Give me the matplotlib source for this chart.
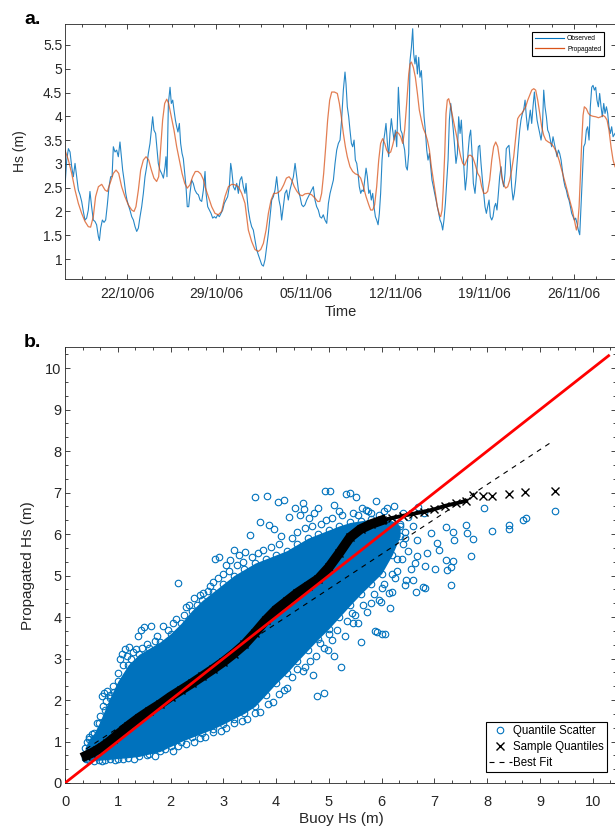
"""Buoy vs propagated significant wave height: time series (a) and quantile plot (b)."""

import datetime as dt

import matplotlib

matplotlib.use("Agg")
import matplotlib.dates as mdates
import matplotlib.pyplot as plt
import numpy as np
from matplotlib.ticker import AutoMinorLocator, FixedLocator, FormatStrFormatter, MultipleLocator

plt.rcParams["font.family"] = ["Liberation Sans", "DejaVu Sans"]
plt.rcParams["lines.scale_dashes"] = False

BLUE = "#0072BD"
ORANGE = "#D95319"
INK = "#262626"

T0 = dt.datetime(2006, 10, 17)  # day 0 of the time axis

# panel a: (days after 17/10/06, Hs in m)
observed = [
    (0.14, 2.52), (0.28, 3.08), (0.41, 3.32), (0.54, 3.25), (0.67, 2.94), (0.80, 2.73), (0.93, 3.01),
    (1.06, 2.73), (1.19, 2.45), (1.32, 2.35), (1.45, 2.21), (1.58, 2.00), (1.71, 1.82), (1.84, 1.86),
    (1.97, 2.03), (2.10, 2.42), (2.23, 2.10), (2.36, 1.82), (2.49, 1.79), (2.62, 1.72), (2.76, 1.47),
    (2.84, 1.39), (2.94, 1.65), (3.07, 1.82), (3.20, 1.77), (3.33, 1.82), (3.46, 2.14), (3.59, 2.52),
    (3.72, 2.73), (3.83, 2.73), (3.93, 3.36), (4.06, 3.25), (4.19, 3.29), (4.32, 3.15), (4.45, 3.46),
    (4.56, 3.15), (4.66, 2.87), (4.77, 2.66), (4.90, 2.38), (5.00, 2.24), (5.10, 2.14), (5.23, 2.03),
    (5.37, 1.89), (5.50, 1.82), (5.63, 1.68), (5.76, 1.58), (5.89, 1.65), (6.02, 1.89), (6.15, 2.10),
    (6.28, 2.38), (6.41, 2.73), (6.54, 2.94), (6.67, 3.22), (6.80, 3.43), (6.93, 3.78), (7.01, 3.99),
    (7.11, 3.71), (7.24, 3.64), (7.35, 3.32), (7.45, 3.01), (7.58, 2.87), (7.71, 2.80), (7.85, 2.70),
    (7.98, 2.94), (8.05, 3.15), (8.13, 2.73), (8.24, 4.27), (8.37, 4.61), (8.47, 4.27), (8.58, 4.34),
    (8.68, 4.13), (8.79, 3.92), (8.89, 3.78), (8.99, 3.67), (9.10, 3.85), (9.20, 3.43), (9.31, 3.22),
    (9.41, 3.11), (9.52, 2.80), (9.62, 2.52), (9.72, 2.10), (9.83, 2.10), (9.93, 2.38), (10.06, 2.66),
    (10.19, 2.59), (10.32, 2.45), (10.46, 2.38), (10.59, 2.35), (10.72, 2.24), (10.85, 2.21),
    (10.98, 2.45), (11.11, 2.84),
    (11.19, 2.38), (11.32, 2.10), (11.45, 2.03), (11.58, 1.96), (11.71, 1.86), (11.84, 1.89),
    (11.97, 1.86), (12.10, 1.93), (12.23, 1.89), (12.36, 1.96), (12.49, 2.03), (12.62, 2.17),
    (12.75, 2.24), (12.88, 2.31), (13.01, 2.52), (13.12, 3.01), (13.20, 2.87), (13.33, 2.52),
    (13.46, 2.45), (13.59, 2.59), (13.72, 2.38), (13.85, 2.66), (13.98, 2.73), (14.11, 2.52),
    (14.24, 2.38), (14.32, 2.59), (14.42, 2.24), (14.50, 2.03), (14.63, 1.82), (14.76, 1.68),
    (14.89, 1.61), (15.02, 1.40), (15.15, 1.20), (15.28, 1.09), (15.41, 0.99), (15.55, 0.88),
    (15.68, 0.85), (15.81, 0.99), (15.94, 1.27), (16.07, 1.54), (16.20, 1.89), (16.33, 2.24),
    (16.46, 2.31), (16.59, 2.45), (16.72, 2.73), (16.80, 2.52), (16.90, 2.24), (17.01, 2.10),
    (17.11, 1.82), (17.24, 2.10), (17.37, 2.38), (17.50, 2.45), (17.63, 2.24), (17.76, 2.45),
    (17.89, 2.59), (18.03, 2.73), (18.16, 3.01), (18.29, 2.73), (18.42, 2.45), (18.55, 2.31),
    (18.68, 2.14), (18.81, 2.10), (18.94, 2.14), (19.07, 2.24), (19.20, 2.31), (19.33, 2.38),
    (19.46, 2.45), (19.59, 2.52), (19.72, 2.24), (19.85, 2.10), (19.98, 2.03), (20.11, 1.89),
    (20.24, 1.86), (20.37, 1.93), (20.50, 1.82), (20.64, 1.75), (20.77, 2.17), (20.90, 2.38),
    (21.03, 2.52), (21.16, 2.66), (21.29, 3.01), (21.42, 3.29), (21.55, 3.43), (21.68, 3.50),
    (21.81, 3.95), (21.94, 4.55), (22.07, 4.93), (22.15, 4.68), (22.25, 4.20), (22.36, 3.99),
    (22.46, 3.71), (22.57, 3.43), (22.67, 3.36), (22.78, 3.50), (22.88, 3.08), (22.99, 3.01),
    (23.09, 2.80), (23.19, 2.52), (23.30, 2.38), (23.40, 2.45), (23.51, 2.42), (23.61, 2.66),
    (23.72, 2.91), (23.82, 2.73), (23.93, 2.38), (24.03, 2.45), (24.13, 2.24), (24.24, 2.38),
    (24.34, 2.10), (24.45, 1.89), (24.55, 1.82), (24.66, 1.72), (24.76, 1.96), (24.86, 2.38),
    (24.97, 3.08), (25.07, 3.43), (25.18, 3.64), (25.28, 3.85), (25.39, 3.43), (25.49, 3.15),
    (25.59, 3.64), (25.70, 3.95), (25.80, 3.71), (25.91, 3.50), (26.01, 3.71), (26.12, 3.36),
    (26.25, 4.61), (26.35, 4.06), (26.43, 3.71), (26.54, 3.64), (26.64, 3.43), (26.74, 3.29),
    (26.85, 2.94), (26.95, 2.87), (27.06, 3.22), (27.16, 5.17), (27.27, 5.45), (27.37, 5.84),
    (27.45, 5.31), (27.55, 5.10), (27.63, 5.28), (27.74, 4.89), (27.84, 5.24), (27.94, 4.82),
    (28.05, 4.96), (28.15, 4.48), (28.26, 3.99), (28.36, 3.71), (28.47, 3.29), (28.57, 3.08),
    (28.68, 3.22), (28.78, 2.94), (28.88, 2.66), (28.99, 2.52), (29.09, 2.38), (29.20, 2.24),
    (29.30, 2.10), (29.41, 1.96), (29.51, 1.82), (29.62, 1.75), (29.72, 1.61), (29.82, 1.82),
    (29.93, 2.17), (30.03, 2.59), (30.14, 3.08), (30.24, 3.92), (30.35, 4.27), (30.45, 3.99),
    (30.55, 3.71), (30.66, 3.36), (30.76, 3.01), (30.87, 3.22), (30.97, 3.99), (31.08, 3.64),
    (31.18, 3.92), (31.29, 3.36), (31.39, 2.87), (31.49, 2.45), (31.60, 2.73), (31.70, 3.22),
    (31.81, 3.57), (31.91, 3.71), (32.02, 3.22), (32.12, 2.59), (32.25, 2.38),
    (32.38, 2.80), (32.51, 3.36), (32.62, 3.39), (32.72, 3.01), (32.83, 2.66), (32.93, 2.38),
    (33.03, 2.10), (33.14, 1.96), (33.24, 2.10), (33.35, 2.24), (33.45, 1.89), (33.56, 1.82),
    (33.66, 1.89), (33.77, 2.10), (33.87, 2.17), (33.97, 2.03), (34.08, 2.38), (34.18, 2.73),
    (34.29, 2.94), (34.39, 2.66), (34.50, 2.52), (34.60, 2.80), (34.70, 3.32), (34.81, 3.36),
    (34.91, 3.39), (35.02, 3.01), (35.12, 2.52), (35.23, 2.24), (35.33, 2.38), (35.44, 2.66),
    (35.54, 3.01), (35.64, 3.36), (35.75, 3.71), (35.85, 3.92), (35.96, 4.06), (36.06, 4.13),
    (36.17, 4.34), (36.27, 3.99), (36.38, 3.71), (36.48, 3.92), (36.58, 4.13), (36.69, 3.85),
    (36.79, 4.20), (36.90, 4.51), (37.00, 4.20), (37.11, 3.92), (37.21, 3.78), (37.32, 3.64),
    (37.42, 3.50), (37.52, 3.71), (37.63, 4.55), (37.73, 4.20), (37.84, 3.99), (37.94, 3.71),
    (38.05, 3.64), (38.15, 3.50), (38.25, 3.36), (38.36, 3.57), (38.46, 3.43), (38.57, 3.29),
    (38.67, 3.15), (38.78, 3.29), (38.88, 3.22), (38.99, 3.08), (39.09, 2.87), (39.19, 2.66),
    (39.30, 2.52), (39.40, 2.45), (39.51, 2.31), (39.61, 2.24), (39.72, 2.10), (39.82, 1.96),
    (39.93, 1.89), (40.03, 1.82), (40.13, 1.86), (40.24, 1.75), (40.34, 1.61), (40.45, 1.51),
    (40.55, 2.10), (40.66, 2.73), (40.76, 3.36), (40.87, 3.43), (40.97, 3.71), (41.07, 3.78),
    (41.18, 3.50), (41.28, 4.20), (41.39, 4.61), (41.49, 4.65), (41.60, 4.55), (41.70, 4.61),
    (41.80, 4.34), (41.91, 4.20), (42.01, 4.48), (42.12, 4.20), (42.22, 3.99), (42.33, 4.27),
    (42.43, 4.06), (42.54, 4.20), (42.64, 4.06), (42.74, 3.78), (42.85, 3.64), (42.95, 3.78),
    (43.06, 3.57), (43.21, 3.64),
]

propagated = [
    (0.14, 3.29), (0.41, 3.08), (0.67, 2.80), (0.93, 2.45), (1.19, 2.17), (1.45, 1.96), (1.71, 1.79),
    (1.97, 1.68), (2.15, 1.67), (2.36, 1.89), (2.54, 2.31), (2.76, 2.52), (3.02, 2.57), (3.28, 2.45),
    (3.46, 2.42), (3.67, 2.59), (3.93, 2.80), (4.14, 2.87), (4.35, 2.80), (4.58, 2.52), (4.84, 2.31),
    (5.10, 2.14), (5.37, 2.03), (5.55, 2.00), (5.70, 2.10), (5.89, 2.45), (6.07, 2.87), (6.28, 3.08),
    (6.49, 3.15), (6.70, 3.08), (6.91, 2.87), (7.11, 2.70), (7.32, 2.63), (7.48, 2.73), (7.64, 3.36),
    (7.79, 3.92), (7.95, 4.27), (8.11, 4.36), (8.26, 4.27), (8.47, 3.99), (8.68, 3.71), (8.89, 3.36),
    (9.10, 3.08), (9.31, 2.80), (9.52, 2.59), (9.72, 2.49), (9.93, 2.56), (10.14, 2.73), (10.35, 2.84),
    (10.56, 2.84), (10.77, 2.79), (10.98, 2.67), (11.11, 2.52), (11.37, 2.31), (11.63, 2.10),
    (11.89, 1.96), (12.15, 1.93), (12.41, 2.00), (12.67, 2.31), (12.94, 2.52), (13.20, 2.57),
    (13.46, 2.56), (13.72, 2.52), (13.98, 2.38), (14.24, 2.17), (14.37, 1.89), (14.50, 1.61),
    (14.76, 1.37), (15.02, 1.20), (15.28, 1.16), (15.47, 1.20), (15.68, 1.33), (15.89, 1.61),
    (16.07, 1.96), (16.28, 2.24), (16.49, 2.38), (16.69, 2.38), (16.85, 2.40), (17.06, 2.45),
    (17.27, 2.56), (17.48, 2.70), (17.69, 2.73), (17.89, 2.66), (18.10, 2.52), (18.31, 2.42),
    (18.52, 2.35), (18.73, 2.33), (18.94, 2.37), (19.20, 2.38), (19.46, 2.35), (19.72, 2.28),
    (19.93, 2.21), (20.09, 2.21), (20.24, 2.38), (20.40, 2.80), (20.56, 3.36), (20.71, 3.92),
    (20.87, 4.34), (21.03, 4.51), (21.24, 4.51), (21.47, 4.48), (21.63, 4.27), (21.78, 3.99),
    (21.94, 3.64), (22.10, 3.36), (22.25, 3.15), (22.46, 2.94), (22.67, 2.84), (22.88, 2.79),
    (23.09, 2.77), (23.30, 2.70), (23.51, 2.52), (23.72, 2.31), (23.93, 2.14), (24.08, 2.03),
    (24.24, 2.03), (24.39, 2.14), (24.55, 2.52), (24.71, 3.08), (24.86, 3.43), (25.02, 3.53),
    (25.18, 3.43), (25.33, 3.29), (25.49, 3.22), (25.65, 3.25), (25.80, 3.39), (25.96, 3.57),
    (26.12, 3.67), (26.27, 3.64), (26.43, 3.57), (26.59, 3.43), (26.74, 3.71), (26.90, 4.27),
    (27.06, 4.89), (27.16, 5.10), (27.27, 5.14), (27.42, 5.03), (27.58, 4.82), (27.74, 4.48),
    (27.89, 4.13), (28.05, 3.92), (28.21, 3.74), (28.36, 3.64), (28.52, 3.50), (28.68, 3.29),
    (28.83, 2.94), (28.99, 2.66), (29.15, 2.38), (29.30, 2.10), (29.46, 1.93), (29.56, 1.89),
    (29.67, 2.03), (29.77, 2.52), (29.88, 3.22), (29.98, 4.06), (30.08, 4.34), (30.19, 4.37),
    (30.35, 4.20), (30.50, 3.99), (30.66, 3.78), (30.82, 3.57), (30.97, 3.36), (31.13, 3.15),
    (31.29, 3.01), (31.44, 2.97), (31.60, 3.08), (31.76, 3.18), (31.91, 3.18), (32.07, 3.14),
    (32.25, 3.00), (32.46, 2.80), (32.62, 2.73), (32.77, 2.52), (32.93, 2.38), (33.09, 2.38),
    (33.24, 2.42), (33.40, 2.66), (33.56, 3.08), (33.71, 3.36), (33.87, 3.46), (34.03, 3.36),
    (34.18, 3.08), (34.34, 2.73), (34.50, 2.56), (34.65, 2.49), (34.81, 2.52), (34.97, 2.66),
    (35.12, 2.87), (35.28, 3.15), (35.44, 3.57), (35.59, 3.95), (35.75, 4.02), (35.91, 4.06),
    (36.06, 4.13), (36.22, 4.20), (36.38, 4.34), (36.53, 4.44), (36.69, 4.55), (36.85, 4.58),
    (37.00, 4.55), (37.16, 4.34), (37.32, 4.06), (37.47, 3.78), (37.63, 3.60), (37.79, 3.50),
    (37.99, 3.46), (38.20, 3.43), (38.41, 3.36), (38.62, 3.25), (38.83, 3.08), (39.04, 2.87),
    (39.25, 2.66), (39.46, 2.45), (39.66, 2.24), (39.87, 2.03), (40.03, 1.82), (40.19, 1.61),
    (40.29, 1.72), (40.40, 2.10), (40.50, 2.73), (40.60, 3.43), (40.71, 4.02), (40.81, 4.20),
    (40.97, 4.16), (41.13, 4.06), (41.28, 4.02), (41.49, 4.00), (41.70, 3.99), (41.91, 3.97),
    (42.12, 3.99), (42.27, 4.02), (42.43, 3.99), (42.59, 3.92), (42.74, 3.71), (42.90, 3.36),
    (43.06, 3.08), (43.21, 2.94),
]

# panel b: dense core of the quantile scatter (buoy Hs, lower / upper propagated Hs)
cloud_x = [0.38, 0.45, 0.55, 0.65, 0.75, 0.85, 1.0, 1.2, 1.4, 1.6, 1.8, 2.0, 2.2, 2.4, 2.6, 2.8, 3.0,
           3.2, 3.4, 3.6, 3.8, 4.0, 4.2, 4.4, 4.6, 4.8, 5.0, 5.2, 5.4, 5.6, 5.8, 6.0, 6.2, 6.35]
cloud_lo = [0.60, 0.56, 0.54, 0.55, 0.56, 0.57, 0.59, 0.61, 0.64, 0.70, 0.76, 0.88, 1.00, 1.10, 1.20,
            1.30, 1.42, 1.55, 1.68, 1.85, 2.12, 2.40, 2.65, 2.93, 3.20, 3.47, 3.72, 4.00, 4.28, 4.55,
            4.80, 5.05, 5.50, 5.95]
cloud_hi = [0.85, 1.05, 1.20, 1.45, 1.75, 2.05, 2.45, 2.85, 3.10, 3.25, 3.40, 3.60, 3.85, 4.15, 4.40,
            4.60, 4.80, 5.00, 5.15, 5.30, 5.40, 5.50, 5.60, 5.75, 5.90, 6.00, 6.10, 6.20, 6.28, 6.32,
            6.36, 6.36, 6.32, 6.20]

# individual scatter circles outside the dense core
scatter_pts = [
    (0.42, 1.00), (0.46, 1.12), (0.52, 1.18), (0.70, 2.10), (0.74, 2.18), (0.80, 2.22), (0.86, 2.12),
    (0.92, 2.20), (0.98, 2.05), (1.05, 2.98), (1.08, 3.10), (1.13, 3.22), (1.18, 3.05), (1.22, 3.28),
    (1.28, 3.15), (1.34, 3.22), (1.38, 3.55), (1.44, 3.68), (1.50, 3.75), (1.62, 3.78), (1.85, 3.78),
    (2.15, 4.82), (2.30, 4.25), (2.45, 4.45), (2.55, 4.52), (2.70, 4.62), (2.80, 4.85), (2.85, 5.40),
    (2.92, 5.45), (3.05, 5.25), (3.12, 5.38), (3.20, 5.62), (3.30, 5.50), (3.42, 5.58), (3.50, 5.98),
    (3.60, 6.90), (3.70, 6.28), (3.82, 6.92), (3.86, 6.22), (3.96, 6.12), (4.04, 6.78), (4.15, 6.82),
    (4.25, 6.42), (4.35, 6.62), (4.45, 6.45), (4.50, 6.75), (4.52, 6.60), (4.62, 6.40), (4.72, 6.52),
    (4.80, 6.62), (4.92, 7.04), (5.02, 7.04), (5.10, 6.70), (5.20, 6.55), (5.33, 6.96), (5.40, 6.98),
    (5.52, 6.90), (5.62, 6.62), (5.70, 6.58), (5.80, 6.50), (5.90, 6.80), (6.05, 6.55), (6.10, 6.62),
    (6.24, 6.68), (6.40, 6.52), (6.50, 6.42), (6.68, 6.66), (6.80, 6.52),
    (0.60, 1.45), (0.66, 1.62), (0.72, 1.85), (0.78, 1.98), (0.90, 2.35), (1.00, 2.65), (1.10, 2.85),
    (1.25, 2.98), (1.45, 3.25), (1.55, 3.35), (1.70, 3.42), (1.75, 3.55), (1.95, 3.70), (2.05, 3.85),
    (2.10, 3.95), (2.25, 4.05), (2.35, 4.30), (2.50, 4.30), (2.62, 4.58), (2.75, 4.75), (2.90, 4.95),
    (3.00, 5.05), (3.10, 5.12), (3.25, 5.25), (3.38, 5.32), (3.55, 5.45), (3.65, 5.55), (3.75, 5.62),
    (3.90, 5.70), (4.05, 5.75), (4.10, 5.95), (4.30, 5.90), (4.40, 6.05), (4.55, 6.15), (4.68, 6.20),
    (4.85, 6.25), (4.95, 6.35), (5.05, 6.40), (5.25, 6.45), (5.45, 6.50), (5.55, 6.45), (5.75, 6.55),
    (5.95, 6.45),
    (6.45, 6.05), (6.35, 6.25), (6.60, 6.20), (6.93, 6.02), (7.21, 6.18), (7.36, 6.04), (7.38, 5.86),
    (7.59, 6.23), (7.61, 6.03), (7.73, 5.88), (7.70, 5.46), (7.21, 5.37), (7.36, 5.34), (7.01, 5.17),
    (7.23, 5.13), (7.32, 5.21), (7.31, 4.77), (6.83, 4.69), (6.66, 4.61), (6.60, 4.89), (6.44, 4.77),
    (6.19, 4.61), (6.16, 4.21), (5.98, 4.37), (5.92, 3.65), (6.07, 3.60), (5.43, 4.10), (5.55, 3.86),
    (5.23, 2.80), (4.77, 2.10), (4.91, 2.17), (4.54, 2.80), (4.39, 2.76), (4.99, 3.20), (4.83, 3.37),
    (6.67, 5.86), (6.67, 5.46), (6.86, 5.54), (7.05, 5.78), (7.08, 5.62), (6.64, 5.30), (6.83, 5.22),
    (7.94, 6.64), (8.10, 6.07), (8.42, 6.23), (8.42, 6.13), (8.67, 6.35), (8.73, 6.38), (9.29, 6.55),
    (5.72, 4.13), (5.94, 4.41), (6.14, 4.57), (6.39, 5.41), (6.47, 4.89), (6.79, 4.73), (5.46, 3.85),
    (5.87, 3.66), (6.01, 3.59), (6.30, 5.10), (6.50, 5.60), (5.60, 3.40), (5.10, 3.05), (4.70, 2.60),
    (4.20, 2.30), (6.55, 5.15), (6.25, 4.95), (6.00, 4.70), (5.80, 4.35), (5.30, 3.55), (5.00, 3.60),
    (3.95, 1.95), (3.60, 1.68), (3.20, 1.45), (2.80, 1.22), (2.30, 0.95), (1.90, 0.82), (1.55, 0.68),
    (1.10, 0.58), (0.70, 0.53), (0.40, 0.58),
    (0.95, 0.55), (1.30, 0.58), (1.70, 0.66), (2.05, 0.78), (2.15, 0.90), (2.45, 0.98), (2.55, 1.08),
    (2.65, 1.12), (2.95, 1.25), (3.05, 1.32), (3.35, 1.50), (3.45, 1.55), (3.70, 1.72), (3.85, 1.90),
    (4.05, 2.15), (4.15, 2.25), (4.30, 2.55), (4.50, 2.70), (4.65, 2.95), (4.75, 3.05), (4.90, 3.25),
    (5.05, 3.45), (5.15, 3.70), (5.35, 3.90), (5.50, 4.05), (5.65, 4.30), (5.85, 4.55), (6.05, 4.80),
    (6.20, 5.05), (6.30, 5.40), (6.40, 5.75), (6.45, 5.90),
]

# sample quantiles (buoy, propagated)
quant_x = [0.40, 0.50, 0.60, 0.70, 0.80, 0.90, 1.00, 1.20, 1.40, 1.60, 1.80, 2.00, 2.20, 2.40, 2.60,
           2.80, 3.00, 3.20, 3.40, 3.60, 3.80, 4.00, 4.20, 4.40, 4.60, 4.80, 5.00, 5.20, 5.40, 5.60,
           5.80, 6.00, 6.20, 6.40, 6.60, 6.80, 7.00, 7.20, 7.40, 7.60]
quant_y = [0.66, 0.72, 0.79, 0.87, 0.96, 1.06, 1.17, 1.38, 1.57, 1.74, 1.90, 2.08, 2.24, 2.40, 2.57,
           2.74, 2.92, 3.12, 3.34, 3.62, 3.92, 4.18, 4.38, 4.58, 4.75, 4.92, 5.20, 5.55, 5.92, 6.12,
           6.24, 6.33, 6.39, 6.44, 6.49, 6.54, 6.60, 6.68, 6.74, 6.80]
quant_tail_x = [7.73, 7.92, 8.10, 8.42, 8.71, 9.29]
quant_tail_y = [6.94, 6.92, 6.92, 6.96, 7.02, 7.04]

fit_x = [0.40, 9.22]
fit_y = [0.82, 8.22]
ref_x = [0.0, 10.3]
ref_y = [0.0, 10.3]


def style_axes(ax, labelsize, pad_x, pad_y):
    for spine in ax.spines.values():
        spine.set_linewidth(0.6)
        spine.set_color(INK)
    ax.tick_params(which="both", direction="in", top=True, right=True, width=0.6, color=INK,
                   labelcolor=INK, labelsize=labelsize)
    ax.tick_params(which="major", length=3.5)
    ax.tick_params(which="minor", length=2.0)
    ax.tick_params(axis="x", pad=pad_x)
    ax.tick_params(axis="y", pad=pad_y)


fig = plt.figure(figsize=(6.15, 8.26), dpi=100)
W, H = 615.0, 826.0

# ---- panel a
ax1 = fig.add_axes([65 / W, 1 - 279 / H, 551 / W, 255 / H])
obs_t = [T0 + dt.timedelta(days=d) for d, _ in observed]
prop_t = [T0 + dt.timedelta(days=d) for d, _ in propagated]
ax1.plot(obs_t, [v for _, v in observed], color=BLUE, lw=0.8, alpha=0.85, label="Observed")
ax1.plot(prop_t, [v for _, v in propagated], color=ORANGE, lw=0.9, alpha=0.75, label="Propagated")
ax1.set_xlim(T0 + dt.timedelta(days=0.145), T0 + dt.timedelta(days=43.29))
ax1.set_ylim(0.58, 5.94)
ax1.yaxis.set_major_locator(MultipleLocator(0.5))
ax1.yaxis.set_major_formatter(FormatStrFormatter("%g"))
ax1.xaxis.set_major_locator(mdates.WeekdayLocator(byweekday=mdates.SU))
ax1.xaxis.set_major_formatter(mdates.DateFormatter("%d/%m/%y"))
minor_days = np.arange(1.5, 43.3, 1.75)
ax1.xaxis.set_minor_locator(FixedLocator(
    mdates.date2num([T0 + dt.timedelta(days=float(d)) for d in minor_days])))
style_axes(ax1, 10, 5.5, 2.0)
ax1.set_xlabel("Time", fontsize=10.5, color=INK)
ax1.xaxis.set_label_coords(0.5, -0.10)
ax1.set_ylabel("Hs (m)", fontsize=10, color=INK)
ax1.yaxis.set_label_coords(-0.069, 0.5)
leg1 = ax1.legend(loc="upper right", bbox_to_anchor=(604 / W, 1 - 32 / H),
                  bbox_transform=fig.transFigure, fontsize=4.8, handlelength=4.3,
                  handletextpad=0.5, borderpad=0.45, labelspacing=0.55, borderaxespad=0,
                  fancybox=False, framealpha=1)
leg1.get_frame().set_edgecolor("black")
leg1.get_frame().set_linewidth(0.8)
for line in leg1.get_lines():
    line.set_alpha(1)

# ---- panel b
ax2 = fig.add_axes([65 / W, 1 - 783 / H, 551 / W, 436 / H])
ax2.fill_between(cloud_x, cloud_lo, cloud_hi, color=BLUE, lw=0, zorder=1)
circ = dict(ls="none", marker="o", ms=4.7, mfc="none", mec=BLUE, mew=0.8, zorder=1)
ax2.plot(cloud_x, cloud_hi, **circ)
ax2.plot(cloud_x, cloud_lo, **circ)
ax2.plot([p[0] for p in scatter_pts], [p[1] for p in scatter_pts], label="Quantile Scatter", **circ)

qx = np.array(quant_x)
qy = np.array(quant_y)
ax2.plot(qx[qx <= 6.0], qy[qx <= 6.0], color="black", lw=7.0, zorder=3)
ax2.plot(qx[qx >= 6.0], qy[qx >= 6.0], color="black", lw=2.8, zorder=3)
ax2.plot(quant_x + quant_tail_x, quant_y + quant_tail_y, ls="none", marker="x", ms=6, mew=1.0,
         color="black", label="Sample Quantiles", zorder=3)
ax2.plot(fit_x, fit_y, color="black", lw=0.8, dashes=(3.6, 3.6), label="Best Fit", zorder=4)
ax2.plot(ref_x, ref_y, color="red", lw=2.0, zorder=5)

ax2.set_xlim(0, 10.44)
ax2.set_ylim(0, 10.51)
ax2.xaxis.set_major_locator(MultipleLocator(1))
ax2.yaxis.set_major_locator(MultipleLocator(1))
ax2.xaxis.set_minor_locator(AutoMinorLocator(3))
ax2.yaxis.set_minor_locator(AutoMinorLocator(3))
style_axes(ax2, 10.5, 8.5, 2.4)
ax2.set_xlabel("Buoy Hs (m)", fontsize=11, color=INK)
ax2.xaxis.set_label_coords(0.502, -0.0665)
ax2.set_ylabel("Propagated Hs (m)", fontsize=11, color=INK)
ax2.yaxis.set_label_coords(-0.054, 0.498)
leg2 = ax2.legend(loc="lower right", bbox_to_anchor=(607 / W, 1 - 772 / H),
                  bbox_transform=fig.transFigure, fontsize=8.3, handlelength=2.0,
                  handletextpad=0.15, borderpad=0.25, labelspacing=0.35, borderaxespad=0,
                  fancybox=False, framealpha=1, numpoints=1)
leg2.get_frame().set_edgecolor("black")
leg2.get_frame().set_linewidth(0.8)

fig.text(24 / W, 1 - 24 / H, "a.", fontsize=14, fontweight="bold", va="baseline", ha="left")
fig.text(24 / W, 1 - 347 / H, "b.", fontsize=14, fontweight="bold", va="baseline", ha="left")

fig.savefig("out.png", dpi=100, facecolor="white")
